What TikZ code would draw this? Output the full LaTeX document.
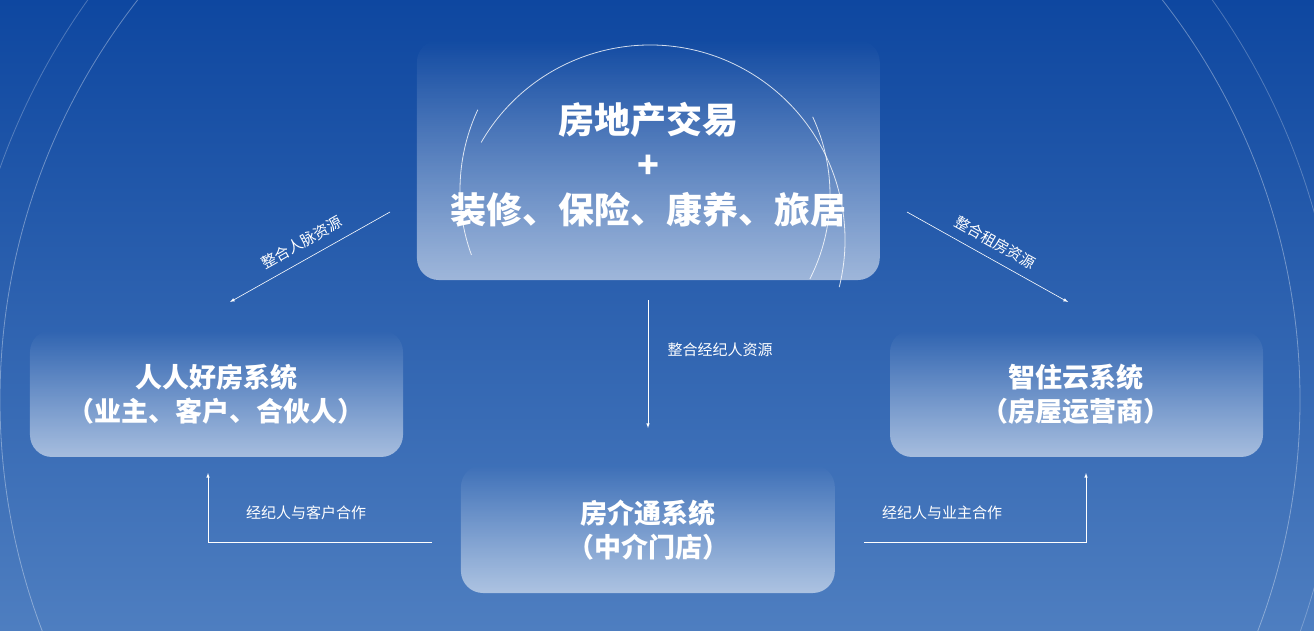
\documentclass[tikz,border=0pt]{standalone}
\usepackage{fontspec}
\setmainfont{Noto Sans CJK SC}
\usetikzlibrary{fadings}
\definecolor{bgtop}{HTML}{0E47A0}
\definecolor{bgbot}{HTML}{4E7EC0}
\tikzset{
  panel/.style={rounded corners=22pt, fill=white, fill opacity=0.55, path fading=north},
  title/.style={text=white, font=\bfseries\fontsize{27}{34}\selectfont, align=center},
  bigtitle/.style={text=white, font=\bfseries\fontsize{36}{45}\selectfont, align=center},
  link/.style={white, line width=0.6pt, -latex},
  tag/.style={text=white, font=\fontsize{15}{17}\selectfont},
  thinarc/.style={white, opacity=0.8, line width=0.8pt}
}
\begin{document}
\begin{tikzpicture}[x=1pt,y=-1pt]
\useasboundingbox (0,0) rectangle (1314,630);
% background
\shade[top color=bgtop, bottom color=bgbot] (0,0) rectangle (1314,630);
\begin{scope}
\clip (0,0) rectangle (1314,630);
\draw[white, opacity=0.35, line width=0.8pt] (650,400) circle (650);
\draw[white, opacity=0.25, line width=0.8pt] (650,400) circle (690);
\end{scope}
% panels
\fill[panel] (417,40) rectangle (880,280);
\fill[panel] (30,330) rectangle (403,457);
\fill[panel] (890,330) rectangle (1263,457);
\fill[panel] (461,465) rectangle (835,593);
% arcs on top panel
\draw[thinarc] (650,240) ++(210:195) arc (210:374:195);
\draw[thinarc] (650,190) ++(205:190) arc (205:160:190);
\draw[thinarc] (645,195) ++(-25:185) arc (-25:27:185);
% texts
\node[bigtitle] (trade) at (648,165) {房地产交易\\+\\装修、保险、康养、旅居};
\node[title] (renren) at (216,394) {人人好房系统\\（业主、客户、合伙人）};
\node[title] (zhizhu) at (1076,394) {智住云系统\\（房屋运营商）};
\node[title] (fangjie) at (648,530) {房介通系统\\（中介门店）};
% connectors
\coordinate (tl) at (390,212); \coordinate (tlend) at (230,302);
\coordinate (tr) at (907,212); \coordinate (trend) at (1068,302);
\coordinate (tm) at (648,300); \coordinate (tmend) at (648,428);
\coordinate (bl) at (432,542); \coordinate (blc) at (208,542); \coordinate (blend) at (208,473);
\coordinate (br) at (864,542); \coordinate (brc) at (1086,542); \coordinate (brend) at (1086,473);
\draw[link] (tl) -- (tlend) node[tag, midway, above, sloped, yshift=6pt] (t1) {整合人脉资源};
\draw[link] (tr) -- (trend) node[tag, midway, above, sloped, yshift=6pt] (t2) {整合租房资源};
\draw[link] (tm) -- (tmend);
\node[tag, anchor=west] (t3) at (664,350) {整合经纪人资源};
\draw[link] (bl) -- (blc) -- (blend);
\node[tag] (t4) at (306,513) {经纪人与客户合作};
\draw[link] (br) -- (brc) -- (brend);
\node[tag] (t5) at (942,513) {经纪人与业主合作};
\end{tikzpicture}
\end{document}
